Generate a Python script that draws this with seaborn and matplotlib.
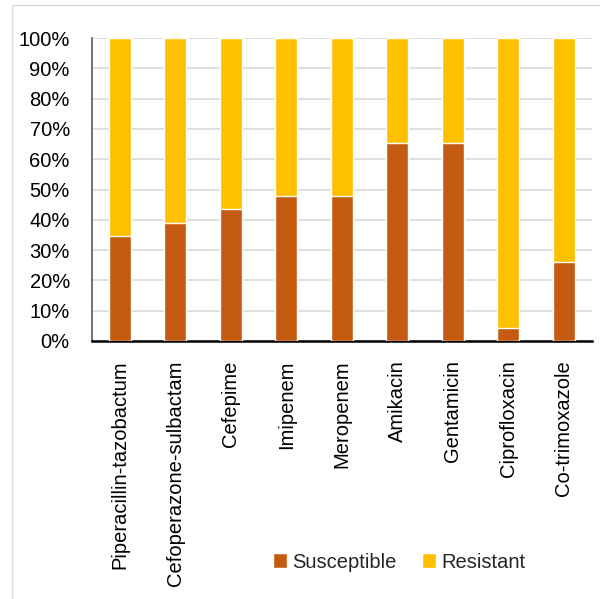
import matplotlib
matplotlib.use("Agg")
import matplotlib.pyplot as plt
from matplotlib import font_manager
from matplotlib.patches import Patch, Rectangle
import seaborn as sns
import pandas as pd

antibiotics = ["Piperacillin-tazobactum", "Cefoperazone-sulbactam", "Cefepime",
               "Imipenem", "Meropenem", "Amikacin", "Gentamicin",
               "Ciprofloxacin", "Co-trimoxazole"]
susceptible = [34.8, 39.1, 43.5, 47.8, 47.8, 65.2, 65.2, 4.3, 26.1]
resistant = [65.2, 60.9, 56.5, 52.2, 52.2, 34.8, 34.8, 95.7, 73.9]
y_ticks = [0, 10, 20, 30, 40, 50, 60, 70, 80, 90, 100]

SUS_COLOR = "#C55A11"
RES_COLOR = "#FFC000"

sns.set_theme(style="white")
names = {f.name for f in font_manager.fontManager.ttflist}
family = [f for f in ["Liberation Sans Narrow", "Liberation Sans", "DejaVu Sans"] if f in names]
plt.rcParams["font.family"] = family

df = pd.DataFrame({"antibiotic": antibiotics,
                   "Susceptible": susceptible,
                   "Resistant": resistant})
df["total"] = df["Susceptible"] + df["Resistant"]

fig = plt.figure(figsize=(6.0, 5.99), dpi=100)
fig.patches.append(Rectangle((12 / 600, -0.1), 1.2, (599 - 5) / 599 + 0.1,
                             transform=fig.transFigure, fill=False,
                             edgecolor="#D9D9D9", linewidth=1.0))
ax = fig.add_axes([92 / 600, (599 - 341) / 599, 499.5 / 600, 303 / 599])

# stacked 100% bars: full-height resistant layer, susceptible drawn over the base
sns.barplot(data=df, x="antibiotic", y="total", color=RES_COLOR, width=0.4,
            saturation=1, ax=ax, zorder=2)
sns.barplot(data=df, x="antibiotic", y="Susceptible", color=SUS_COLOR, width=0.4,
            saturation=1, ax=ax, zorder=3)

ax.set_ylim(0, 100)
ax.set_xlim(-0.5, len(antibiotics) - 0.5)
ax.set_yticks(y_ticks)
ax.set_yticklabels([f"{t}%" for t in y_ticks])
ax.yaxis.grid(True, color="#D9D9D9", linewidth=1.2, zorder=0)
ax.set_axisbelow(True)
ax.set_xlabel("")
ax.set_ylabel("")
ax.tick_params(axis="y", length=0, pad=16, labelsize=14.5, labelcolor="black")
ax.tick_params(axis="x", length=0, pad=14, labelsize=14.5, labelcolor="black")
plt.setp(ax.get_xticklabels(), rotation=90, va="top", ha="center")

for side in ["top", "right"]:
    ax.spines[side].set_visible(False)
ax.spines["left"].set_color("#595959")
ax.spines["left"].set_linewidth(1.2)
ax.spines["bottom"].set_color("black")
ax.spines["bottom"].set_linewidth(1.8)

handles = [Patch(facecolor=SUS_COLOR, label="Susceptible"),
           Patch(facecolor=RES_COLOR, label="Resistant")]
fig.legend(handles=handles, loc="center", bbox_to_anchor=(399 / 600, 1 - 562 / 599),
           ncol=2, frameon=False, fontsize=14.5, handlelength=0.7, handleheight=0.7,
           handletextpad=0.25, columnspacing=1.3)

fig.savefig("out.png", dpi=100, facecolor="white")
